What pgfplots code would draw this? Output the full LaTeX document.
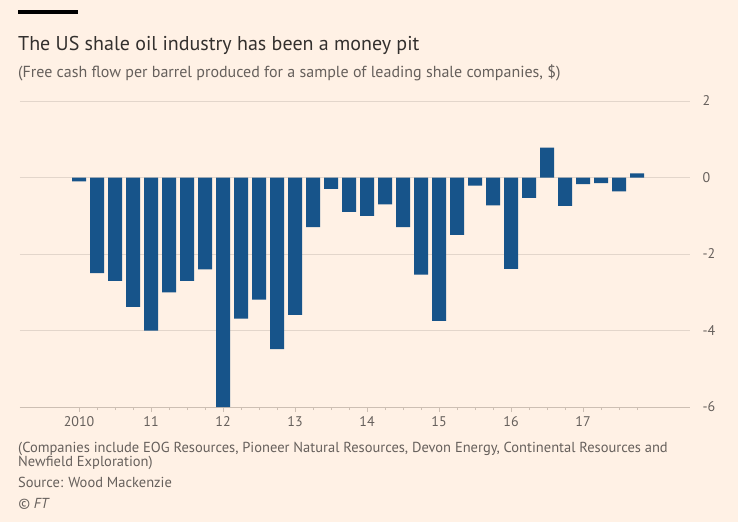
\documentclass[border=0pt]{standalone}
\usepackage{pgfplots}
\pgfplotsset{compat=1.18}
\usepackage{fontspec}
\setmainfont{PT Sans}
\definecolor{ftbg}{HTML}{FFF1E5}
\definecolor{ftbar}{HTML}{17548A}
\definecolor{fttitle}{HTML}{33302E}
\definecolor{ftsub}{HTML}{66605C}
\definecolor{ftgrid}{HTML}{E3D6CB}
\definecolor{ftaxis}{HTML}{CDBFB3}
\begin{document}
\begin{tikzpicture}
\fill[ftbg] (0,0) rectangle (738pt,-522pt);
\path[use as bounding box] (0,0) rectangle (738pt,-522pt);
\fill[black] (18pt,-10pt) rectangle (78pt,-14pt);
\node[anchor=base west, inner sep=0, text=fttitle, font=\fontsize{20}{23}\selectfont] at (18pt,-50pt) {The US shale oil industry has been a money pit};
\node[anchor=base west, inner sep=0, text=ftsub, font=\fontsize{16}{18}\selectfont] at (18pt,-77pt) {(Free cash flow per barrel produced for a sample of leading shale companies, \$)};
\node[anchor=base west, inner sep=0, text=ftsub, font=\fontsize{14.5}{16}\selectfont] at (18pt,-452pt) {(Companies include EOG Resources, Pioneer Natural Resources, Devon Energy, Continental Resources and};
\node[anchor=base west, inner sep=0, text=ftsub, font=\fontsize{14.5}{16}\selectfont] at (18pt,-466pt) {Newfield Exploration)};
\node[anchor=base west, inner sep=0, text=ftsub, font=\fontsize{14.5}{16}\selectfont] at (18pt,-487pt) {Source: Wood Mackenzie};
\node[anchor=base west, inner sep=0, text=ftsub, font=\fontsize{14.5}{16}\selectfont\itshape] at (18pt,-508pt) {© FT};
\begin{axis}[
  at={(20pt,-407pt)}, anchor=south west,
  scale only axis, width=670pt, height=306pt,
  xmin=-3.28, xmax=33.94, ymin=-6, ymax=2,
  axis x line*=bottom, axis y line*=right,
  x axis line style={draw=ftaxis, line width=0.8pt, -},
  y axis line style={draw=none},
  ybar, bar width=14pt,
  xtick={0,4,8,12,16,20,24,28},
  xticklabels={2010,11,12,13,14,15,16,17},
  minor xtick={1,2,3,5,6,7,9,10,11,13,14,15,17,18,19,21,22,23,25,26,27,29,30,31},
  tick align=outside,
  major tick length=5pt, minor tick length=3pt,
  xtick style={draw=ftaxis, line width=0.8pt},
  minor x tick style={draw=ftaxis, line width=0.8pt},
  ytick={-6,-4,-2,0,2},
  ytick style={draw=none},
  ymajorgrids,
  grid style={draw=ftgrid, line width=0.8pt},
  /pgf/number format/assume math mode=true,
  ticklabel style={font=\fontsize{14}{16}\selectfont, text=ftsub},
  xticklabel style={yshift=-1pt},
  yticklabel style={anchor=west, xshift=4pt},
  clip=false,
]
\addplot[fill=ftbar, draw=none] coordinates {
(0,-0.10) (1,-2.50) (2,-2.70) (3,-3.38) (4,-4.00) (5,-3.00) (6,-2.70) (7,-2.40)
(8,-6.00) (9,-3.69) (10,-3.19) (11,-4.49) (12,-3.59) (13,-1.30) (14,-0.30) (15,-0.90)
(16,-1.00) (17,-0.70) (18,-1.30) (19,-2.54) (20,-3.75) (21,-1.50) (22,-0.21) (23,-0.73)
(24,-2.39) (25,-0.53) (26,0.78) (27,-0.74) (28,-0.17) (29,-0.15) (30,-0.36) (31,0.11)
};
\end{axis}
\end{tikzpicture}
\end{document}
